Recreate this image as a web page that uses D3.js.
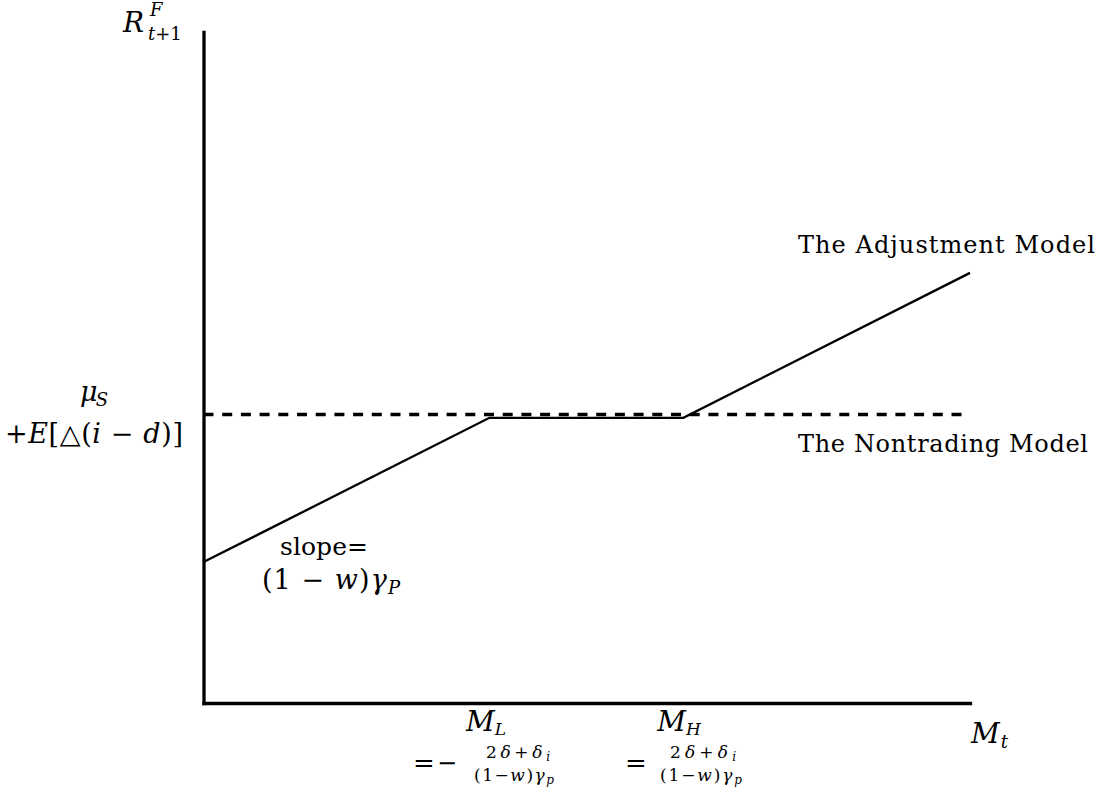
<!DOCTYPE html>
<html><head><meta charset="utf-8">
<script src="https://cdn.jsdelivr.net/npm/d3@7"></script>
<style>body{margin:0;background:#fff} svg{display:block}</style>
</head><body>
<script>
// ---- data ----
const xDomain = [0, 100];
const yDomain = [0, 100];
const adjustmentX = [0, 37.3, 62.6, 100];
const adjustmentY = [21.0, 42.5, 42.5, 64.1];
const nontradingX = [0, 99];
const nontradingY = [43.0, 43.0];
const seriesNames = ["The Adjustment Model", "The Nontrading Model"];

// ---- setup ----
const W = 1104, H = 794;
const svg = d3.select("body").append("svg").attr("width", W).attr("height", H)
  .style("font-family", "'DejaVu Serif',serif").style("fill", "#000");
const x = d3.scaleLinear().domain(xDomain).range([203.5, 970]);
const y = d3.scaleLinear().domain(yDomain).range([703, 32]);

// axes
svg.append("g").attr("transform", "translate(0,703)")
  .call(d3.axisBottom(x).ticks(0).tickSizeOuter(0));
svg.append("g").attr("transform", "translate(203.5,0)")
  .call(d3.axisLeft(y).ticks(0).tickSizeOuter(0));
svg.selectAll(".domain").attr("stroke", "#000").attr("stroke-width", 3.3).attr("stroke-linecap", "square");

const line = d3.line().x(d => x(d[0])).y(d => y(d[1]));
// nontrading (dashed)
svg.append("path").datum(d3.zip(nontradingX, nontradingY)).attr("d", line)
  .attr("fill", "none").attr("stroke", "#000").attr("stroke-width", 3.4)
  .attr("stroke-dasharray", "10,8.7");
// adjustment (solid)
svg.append("path").datum(d3.zip(adjustmentX, adjustmentY)).attr("d", line)
  .attr("fill", "none").attr("stroke", "#000").attr("stroke-width", 2.3)
  .attr("stroke-linejoin", "miter");

// ---- rich text helper ----
// runs: [text, italic?, size, baselineOffset, dx]
function rich(px, py, anchor, runs, len) {
  const t = svg.append("text").attr("x", px).attr("y", py).attr("text-anchor", anchor);
  let cur = 0;
  runs.forEach(r => {
    const [txt, it, sz, b, dx] = r;
    const off = b || 0;
    const s = t.append("tspan").attr("dy", off - cur).attr("font-size", sz)
      .attr("font-style", it ? "italic" : "normal").text(txt);
    if (dx) s.attr("dx", dx);
    cur = off;
  });
  if (len) t.attr("textLength", len).attr("lengthAdjust", "spacing");
  return t;
}

// y-axis title R^F_{t+1}
rich(123, 32, "start", [["R", 1, 28]]);
rich(150, 16, "start", [["F", 1, 18]]);
rich(148, 40, "start", [["t", 1, 18], ["+1", 0, 18]]);

// mu_S + E[...]
rich(94, 401, "middle", [["μ", 1, 27], ["S", 1, 18, 5]], 28);
rich(94, 443, "middle", [["+", 0, 27], ["E", 1, 27], ["[△(", 0, 27], ["i", 1, 27], [" − ", 0, 27], ["d", 1, 27], [")]", 0, 27]], 178);

// slope label
rich(324, 555, "middle", [["slope=", 0, 25]], 88);
rich(331, 589, "middle", [["(1 − ", 0, 27], ["w", 1, 27], [")", 0, 27], ["γ", 1, 27], ["P", 1, 18, 5]], 138);

// series labels
rich(798, 253, "start", [[seriesNames[0], 0, 24]], 297);
rich(798, 452, "start", [[seriesNames[1], 0, 24]], 290);

// x-axis title
rich(971, 743, "start", [["M", 1, 28], ["t", 1, 18, 5, 1]]);

// M_L and M_H
rich(486, 731, "middle", [["M", 1, 28], ["L", 1, 17, 4]]);
rich(679, 731, "middle", [["M", 1, 28], ["H", 1, 17, 4]]);
rich(424, 772, "middle", [["=", 0, 26]]);
rich(447, 771, "middle", [["−", 0, 24]]);
rich(636, 772, "middle", [["=", 0, 26]]);
const num = [["2", 0, 17], ["δ", 1, 17], ["+", 0, 17], ["δ", 1, 17], ["i", 1, 12, 3]];
const den = [["(1−", 0, 17], ["w", 1, 17], [")", 0, 17], ["γ", 1, 17], ["p", 1, 12, 3]];
rich(518, 758, "middle", num, 64);
rich(514, 781, "middle", den, 80);
rich(703, 758, "middle", num, 66);
rich(701, 781, "middle", den, 82);
</script>
</body></html>
